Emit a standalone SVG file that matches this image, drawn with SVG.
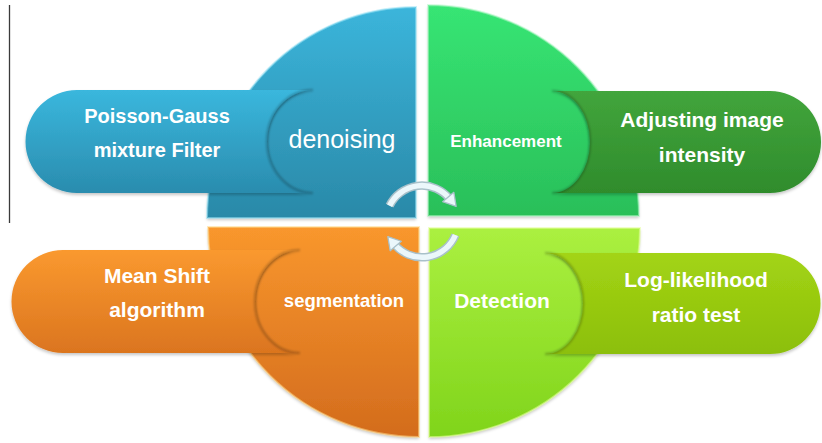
<svg xmlns="http://www.w3.org/2000/svg" width="822" height="443" viewBox="0 0 822 443">
  <defs>
    <style>
      .txt { font-family: "Liberation Sans", Arial, sans-serif; fill: #ffffff; text-anchor: middle; }
      .bold { font-weight: bold; }
      .rim { fill: none; stroke-width: 2; stroke-opacity: 0.55; }
      .bite { fill: none; stroke: #000000; stroke-opacity: 0.22; stroke-width: 2.5; filter: url(#soft); }
      .ring-under { fill: none; stroke: #a9c1ca; stroke-width: 8.5; stroke-linecap: butt; }
      .ring-top { fill: none; stroke: #ebf7fb; stroke-width: 5.5; stroke-linecap: butt; }
    </style>
    <linearGradient id="gBlue" gradientUnits="userSpaceOnUse" x1="0" y1="7" x2="0" y2="218">
      <stop offset="0" stop-color="#3bb5db"/>
      <stop offset="1" stop-color="#2a89a8"/>
    </linearGradient>
    <linearGradient id="gBluePill" gradientUnits="userSpaceOnUse" x1="0" y1="90" x2="0" y2="193">
      <stop offset="0" stop-color="#3ab7dd"/>
      <stop offset="1" stop-color="#2a8cae"/>
    </linearGradient>
    <linearGradient id="gGreen" gradientUnits="userSpaceOnUse" x1="0" y1="5" x2="0" y2="216">
      <stop offset="0" stop-color="#37e574"/>
      <stop offset="1" stop-color="#2abf59"/>
    </linearGradient>
    <linearGradient id="gGreenPill" gradientUnits="userSpaceOnUse" x1="0" y1="91" x2="0" y2="193">
      <stop offset="0" stop-color="#42a53c"/>
      <stop offset="1" stop-color="#2f8c2c"/>
    </linearGradient>
    <linearGradient id="gOrange" gradientUnits="userSpaceOnUse" x1="0" y1="227" x2="0" y2="437">
      <stop offset="0" stop-color="#f9972d"/>
      <stop offset="1" stop-color="#d36c1d"/>
    </linearGradient>
    <linearGradient id="gOrangePill" gradientUnits="userSpaceOnUse" x1="0" y1="250" x2="0" y2="353">
      <stop offset="0" stop-color="#fa992f"/>
      <stop offset="1" stop-color="#db751f"/>
    </linearGradient>
    <linearGradient id="gLime" gradientUnits="userSpaceOnUse" x1="0" y1="228" x2="0" y2="437">
      <stop offset="0" stop-color="#abf040"/>
      <stop offset="1" stop-color="#80d41b"/>
    </linearGradient>
    <linearGradient id="gLimePill" gradientUnits="userSpaceOnUse" x1="0" y1="253" x2="0" y2="354">
      <stop offset="0" stop-color="#a3d414"/>
      <stop offset="1" stop-color="#8cbf0c"/>
    </linearGradient>
    <filter id="soft" x="-20%" y="-20%" width="140%" height="140%">
      <feGaussianBlur stdDeviation="1.2"/>
    </filter>
    <filter id="lift" x="-10%" y="-10%" width="120%" height="130%">
      <feDropShadow dx="0" dy="2" stdDeviation="1.6" flood-color="#000000" flood-opacity="0.22"/>
    </filter>
    <marker id="head" markerUnits="userSpaceOnUse" markerWidth="15" markerHeight="17" viewBox="0 0 15 17" refX="3" refY="8.5" orient="auto">
      <path d="M1.2,1.2 L13.5,8.5 L1.2,15.8 Z" fill="#ebf7fb" stroke="#a9c1ca" stroke-width="1.3" stroke-linejoin="round"/>
    </marker>
  </defs>

  <rect width="822" height="443" fill="#ffffff"/>

  <!-- thin rule on the far left -->
  <line x1="9.5" y1="5" x2="9.5" y2="223" stroke="#3a3a3a" stroke-width="1.3"/>

  <!-- quarter: denoising -->
  <g id="denoising">
    <path d="M416,218 H207 A209,211 0 0 1 416,7 Z" fill="url(#gBlue)" filter="url(#lift)"/>
    <path class="rim" d="M416,218 H207 A209,211 0 0 1 416,7 Z" stroke="#9ae3f5"/>
    <path d="M313,90 H77 A51.5,51.5 0 0 0 77,193 H313 A46,51.5 0 0 1 313,90 Z" fill="url(#gBluePill)" filter="url(#lift)"/>
    <path class="bite" d="M313,90 A46,51.5 0 0 0 313,193"/>
    <text class="txt bold" x="157" y="123" font-size="20">Poisson-Gauss</text>
    <text class="txt bold" x="157" y="157" font-size="20">mixture Filter</text>
    <text class="txt" x="342" y="148" font-size="25">denoising</text>
  </g>

  <!-- quarter: enhancement -->
  <g id="enhancement">
    <path d="M428,216 V5 A211,211 0 0 1 639,216 Z" fill="url(#gGreen)" filter="url(#lift)"/>
    <path class="rim" d="M428,216 V5 A211,211 0 0 1 639,216 Z" stroke="#b4f7c8"/>
    <path d="M552,91 H770 A51,51 0 0 1 770,193 H552 A38,51 0 0 0 552,91 Z" fill="url(#gGreenPill)" filter="url(#lift)"/>
    <path class="bite" d="M552,91 A38,51 0 0 1 552,193"/>
    <text class="txt bold" x="702" y="127" font-size="21">Adjusting image</text>
    <text class="txt bold" x="702" y="162" font-size="21">intensity</text>
    <text class="txt bold" x="506" y="147" font-size="17">Enhancement</text>
  </g>

  <!-- quarter: segmentation -->
  <g id="segmentation">
    <path d="M419,227 V437 A211,210 0 0 1 208,227 Z" fill="url(#gOrange)" filter="url(#lift)"/>
    <path class="rim" d="M419,227 V437 A211,210 0 0 1 208,227 Z" stroke="#ffd98a"/>
    <path d="M300,250 H63 A51.5,51.5 0 0 0 63,353 H300 A45,51.5 0 0 1 300,250 Z" fill="url(#gOrangePill)" filter="url(#lift)"/>
    <path class="bite" d="M300,250 A45,51.5 0 0 0 300,353"/>
    <text class="txt bold" x="157" y="283" font-size="21">Mean Shift</text>
    <text class="txt bold" x="157" y="317" font-size="21">algorithm</text>
    <text class="txt bold" x="344" y="307" font-size="18.5">segmentation</text>
  </g>

  <!-- quarter: detection -->
  <g id="detection">
    <path d="M429,228 H640 A211,209 0 0 1 429,437 Z" fill="url(#gLime)" filter="url(#lift)"/>
    <path class="rim" d="M429,228 H640 A211,209 0 0 1 429,437 Z" stroke="#e4ff9a"/>
    <path d="M545,253 H770 A50.5,50.5 0 0 1 770,354 H545 A38,50.5 0 0 0 545,253 Z" fill="url(#gLimePill)" filter="url(#lift)"/>
    <path class="bite" d="M545,253 A38,50.5 0 0 1 545,354"/>
    <text class="txt bold" x="696" y="287" font-size="21">Log-likelihood</text>
    <text class="txt bold" x="696" y="322" font-size="21">ratio test</text>
    <text class="txt bold" x="502" y="308" font-size="21">Detection</text>
  </g>

  <!-- clockwise cycle arrows in the middle -->
  <g id="connectors">
    <path class="ring-under" d="M389.6,205.7 A36,36 0 0 1 449.4,198.4"/>
    <path class="ring-top" d="M389.6,205.7 A36,36 0 0 1 449.4,198.4" marker-end="url(#head)"/>
    <path class="ring-under" d="M455.4,235 A36,36 0 0 1 394.6,244.6"/>
    <path class="ring-top" d="M455.4,235 A36,36 0 0 1 394.6,244.6" marker-end="url(#head)"/>
  </g>
</svg>
